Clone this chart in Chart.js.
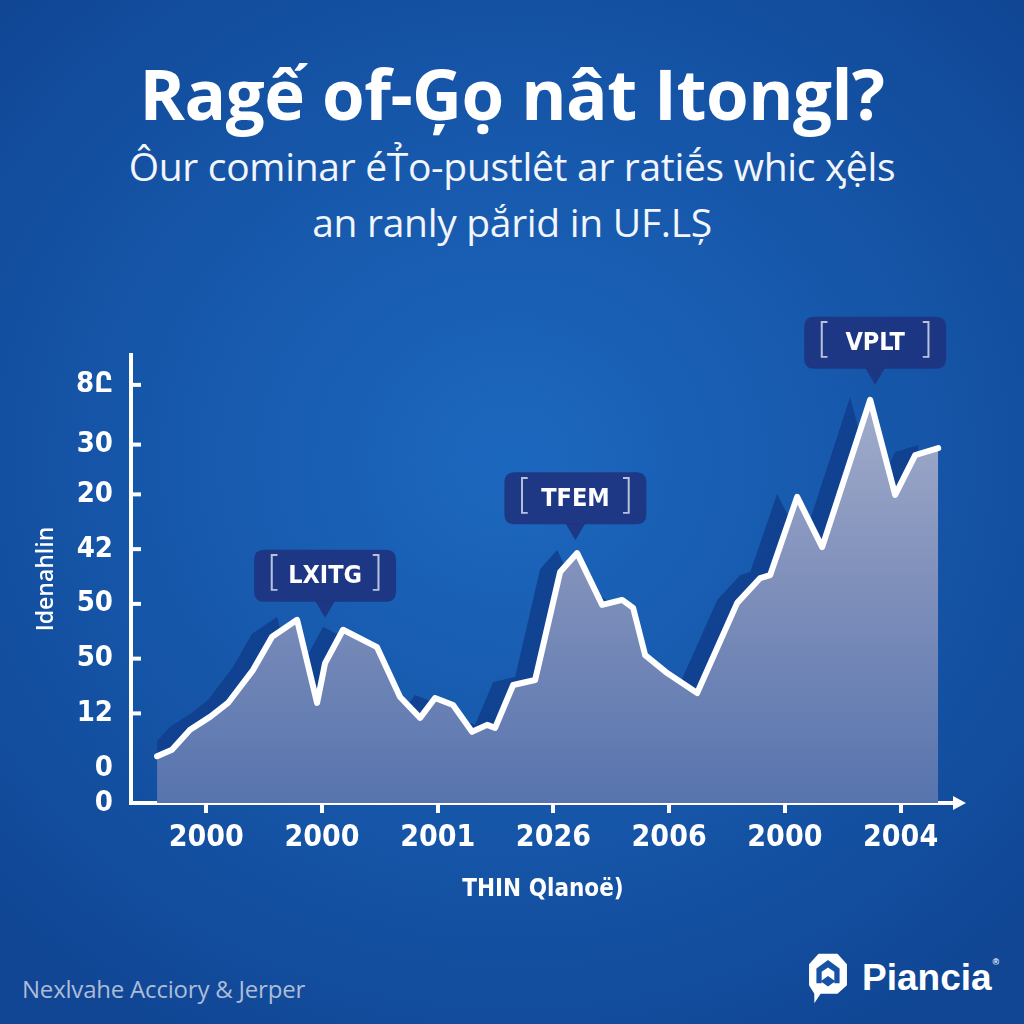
<!DOCTYPE html>
<html>
<head>
<meta charset="utf-8">
<title>Ragế of-Ģọ nât Itongl?</title>
<script src="https://cdn.jsdelivr.net/npm/chart.js@4.4.0/dist/chart.umd.min.js"></script>
<style>
  html, body { margin: 0; padding: 0; }
  body {
    width: 1024px; height: 1024px; overflow: hidden; position: relative;
    background: radial-gradient(ellipse 70% 65% at 50% 45%, #1c68be 0%, #1759ad 45%, #104694 100%);
    font-family: "Open Sans", "Noto Sans", sans-serif; color: #fff;
  }
  .title {
    position: absolute; top: 50px; left: 0; width: 1024px; text-align: center;
    font-size: 69px; font-weight: 700; line-height: 86px; letter-spacing: -0.5px;
  }
  .subtitle {
    position: absolute; top: 138px; left: 0; width: 1024px; text-align: center;
    font-size: 39px; line-height: 56px; color: #f2f5fb; letter-spacing: -0.3px;
  }
  #chartBox { position: absolute; left: 0; top: 300px; width: 1024px; height: 620px; }
  .source {
    position: absolute; left: 22px; top: 972px; font-size: 24px; color: #aebcd8; letter-spacing: -0.2px;
  }
  .logo {
    position: absolute; left: 808px; top: 950px; height: 56px; display: flex; align-items: center;
  }
  .logo span {
    font-family: "Liberation Sans", Arial, sans-serif; font-weight: 700; font-size: 37px; margin-left: 14px;
  }
  .logo sup { font-size: 9px; vertical-align: top; margin-left: 1px; }
</style>
</head>
<body>
<div class="title">Ragế of-Ģọ nât Itongl?</div>
<div class="subtitle">Ôur cominar éT̉o-pustlêt ar ratiḗs whic ӽệls<br>an ranly pắrid in UF.LȘ</div>
<div id="chartBox"><canvas id="trend-chart"></canvas></div>
<div class="source">Nexlvahe Acciory &amp; Jerper</div>
<div class="logo">
  <svg width="40" height="54" viewBox="0 0 38 50">
    <path d="M10 2 L28 2 L37 12 L37 32 L28 40 L12 40 L6 49 L6 40 L1 32 L1 12 Z" fill="#fff"/>
    <path d="M8 30 L8 16 L19 8 L30 16 L30 30 L25 30 L25 19 L19 15 L13 19 L13 30 Z" fill="#1752a6"/>
    <path d="M12 28 L19 23 L26 28 L19 33 Z" fill="#1752a6"/>
  </svg>
  <span>Piancia<sup>®</sup></span>
</div>

<script>
// x positions (in tenths of a tick step) and values of the line
const xPositions = [2.25, 3.54, 5.10, 6.83, 8.38, 10.54, 12.19, 14.35, 16.08, 16.77,
  18.32, 21.26, 23.25, 24.98, 26.27, 27.83, 29.47, 30.77, 31.46, 33.02,
  34.92, 37.08, 38.55, 40.71, 42.44, 43.39, 44.43, 46.33, 48.92, 52.38,
  54.37, 55.23, 57.56, 59.72, 63.87, 66.03, 67.76, 69.75];
const seriesValues = [9.4, 10.7, 14.7, 17.3, 20.1, 26.7, 33.4, 36.8, 20.1, 28.1,
  34.8, 31.3, 21.3, 17.1, 21.1, 19.7, 14.3, 15.7, 15.1, 23.7,
  24.7, 46.4, 50.2, 39.8, 40.8, 39.2, 29.7, 26.1, 22.1, 40.2,
  45.2, 45.8, 61.5, 51.4, 81.0, 61.9, 69.9, 71.3];

// axis ticks as printed in the picture
const xTickValues = [6.5, 16.5, 26.5, 36.5, 46.5, 56.5, 66.5];
const xTickLabels = ['2000', '2000', '2001', '2026', '2006', '2000', '2004'];
const yTickValues = [0, 7, 18, 29, 40, 51, 62, 72, 84];
const yTickLabels = ['0', '0', '12', '50', '50', '42', '20', '30', '8Ը'];

// callouts: text and the point their pointer touches
const calloutLabels = ['LXITG', 'TFEM', 'VPLT'];
const calloutX = [16.77, 38.4, 64.3];
const calloutY = [37.2, 52.8, 84.0];

const narrowFont = "'Liberation Sans Narrow', 'DejaVu Sans Condensed', 'Open Sans', sans-serif";

// dark offset copy of the area, drawn as a canvas shadow of the fill
const areaShadow = {
    id: 'areaShadow',
    beforeDatasetsDraw(chart) {
        const ctx = chart.ctx;
        ctx.save();
        ctx.shadowColor = 'rgba(16, 62, 140, 0.85)';
        ctx.shadowOffsetX = -20;
        ctx.shadowOffsetY = -3;
        ctx.shadowBlur = 0;
    },
    beforeDatasetDraw(chart) {
        // filler has drawn the area by now, the line itself gets no shadow
        chart.ctx.shadowColor = 'rgba(0,0,0,0)';
    },
    afterDatasetsDraw(chart) {
        chart.ctx.restore();
    }
};

// inner tick marks on the y axis and the arrow head on the x axis
const axisDecor = {
    id: 'axisDecor',
    afterDraw(chart) {
        const ctx = chart.ctx;
        const area = chart.chartArea;
        const yScale = chart.scales.y;
        ctx.save();
        ctx.strokeStyle = '#fff';
        ctx.lineWidth = 4;
        yScale.ticks.forEach((t, i) => {
            if (i < 2) return;
            const py = yScale.getPixelForValue(t.value);
            ctx.beginPath();
            ctx.moveTo(area.left, py);
            ctx.lineTo(area.left + 10, py);
            ctx.stroke();
        });
        ctx.fillStyle = '#fff';
        ctx.beginPath();
        ctx.moveTo(area.right + 11, area.bottom);
        ctx.lineTo(area.right - 2, area.bottom - 7);
        ctx.lineTo(area.right - 2, area.bottom + 7);
        ctx.closePath();
        ctx.fill();
        ctx.restore();
    }
};

function roundRect(ctx, x, y, w, h, r) {
    ctx.beginPath();
    ctx.moveTo(x + r, y);
    ctx.lineTo(x + w - r, y);
    ctx.quadraticCurveTo(x + w, y, x + w, y + r);
    ctx.lineTo(x + w, y + h - r);
    ctx.quadraticCurveTo(x + w, y + h, x + w - r, y + h);
    ctx.lineTo(x + r, y + h);
    ctx.quadraticCurveTo(x, y + h, x, y + h - r);
    ctx.lineTo(x, y + r);
    ctx.quadraticCurveTo(x, y, x + r, y);
    ctx.closePath();
}

const callouts = {
    id: 'callouts',
    afterDatasetsDraw(chart) {
        const ctx = chart.ctx;
        const xs = chart.scales.x, ys = chart.scales.y;
        const w = 142, h = 52, tip = 16;
        ctx.save();
        calloutLabels.forEach((label, i) => {
            const px = xs.getPixelForValue(calloutX[i]);
            const py = ys.getPixelForValue(calloutY[i]);
            const top = py - tip - h;
            ctx.fillStyle = 'rgba(30, 52, 128, 0.92)';
            roundRect(ctx, px - w / 2, top, w, h, 10);
            ctx.fill();
            ctx.beginPath();
            ctx.moveTo(px - 10, top + h - 1);
            ctx.lineTo(px + 10, top + h - 1);
            ctx.lineTo(px, py);
            ctx.closePath();
            ctx.fill();

            ctx.textBaseline = 'middle';
            ctx.textAlign = 'center';
            ctx.fillStyle = '#b8c2da';
            ctx.font = "300 40px 'DejaVu Sans', sans-serif";
            ctx.fillText('[', px - w / 2 + 20, top + h / 2 - 1);
            ctx.fillText(']', px + w / 2 - 20, top + h / 2 - 1);
            ctx.fillStyle = '#fff';
            ctx.font = "600 25px " + narrowFont;
            ctx.fillText(label, px, top + h / 2 + 1);
        });
        ctx.restore();
    }
};

function initChart() {
    const canvas = document.getElementById('trend-chart');
    const points = xPositions.map((x, i) => ({ x: x, y: seriesValues[i] }));

    new Chart(canvas.getContext('2d'), {
        type: 'line',
        data: {
            datasets: [{
                data: points,
                borderColor: '#ffffff',
                borderWidth: 6,
                borderJoinStyle: 'round',
                borderCapStyle: 'round',
                pointRadius: 0,
                tension: 0,
                fill: 'origin',
                backgroundColor: (c) => {
                    const area = c.chart.chartArea;
                    if (!area) return '#7585b8';
                    const g = c.chart.ctx.createLinearGradient(0, area.top, 0, area.bottom);
                    g.addColorStop(0, '#aab4ce');
                    g.addColorStop(0.5, '#8090bb');
                    g.addColorStop(1, '#5774ae');
                    return g;
                }
            }]
        },
        options: {
            responsive: true,
            maintainAspectRatio: false,
            animation: false,
            layout: { padding: { top: 55, right: 69, left: 0, bottom: 0 } },
            plugins: {
                legend: { display: false },
                tooltip: { enabled: false }
            },
            scales: {
                x: {
                    type: 'linear',
                    min: 0,
                    max: 71.2,
                    afterFit: (s) => { s.height = 117; },
                    afterBuildTicks: (s) => { s.ticks = xTickValues.map(v => ({ value: v })); },
                    grid: { drawOnChartArea: false, drawTicks: true, tickLength: 10, color: '#ffffff', lineWidth: 4 },
                    border: { color: '#ffffff', width: 4 },
                    ticks: {
                        color: '#ffffff',
                        padding: 7,
                        maxRotation: 0,
                        autoSkip: false,
                        font: { family: narrowFont, size: 30, weight: '600' },
                        callback: (v, i) => xTickLabels[i]
                    },
                    title: {
                        display: true,
                        text: 'THIN Qlanoë)',
                        color: '#ffffff',
                        font: { family: narrowFont, size: 24, weight: '700' },
                        padding: { top: 0, bottom: 16 }
                    }
                },
                y: {
                    type: 'linear',
                    min: 0,
                    max: 90,
                    afterFit: (s) => { s.width = 131; },
                    afterBuildTicks: (s) => { s.ticks = yTickValues.map(v => ({ value: v })); },
                    grid: { display: false, drawTicks: false },
                    border: { color: '#ffffff', width: 4 },
                    ticks: {
                        color: '#ffffff',
                        padding: 18,
                        autoSkip: false,
                        font: { family: narrowFont, size: 29, weight: '700' },
                        callback: (v, i) => yTickLabels[i]
                    },
                    title: {
                        display: true,
                        text: 'Idenahlin',
                        color: '#ffffff',
                        font: { family: "'Open Sans', sans-serif", size: 23, weight: '600' },
                        padding: { top: 33, bottom: 0 }
                    }
                }
            }
        },
        plugins: [areaShadow, callouts, axisDecor]
    });
}

if (document.readyState === 'loading') {
    document.addEventListener('DOMContentLoaded', initChart);
} else {
    initChart();
}
</script>
</body>
</html>
